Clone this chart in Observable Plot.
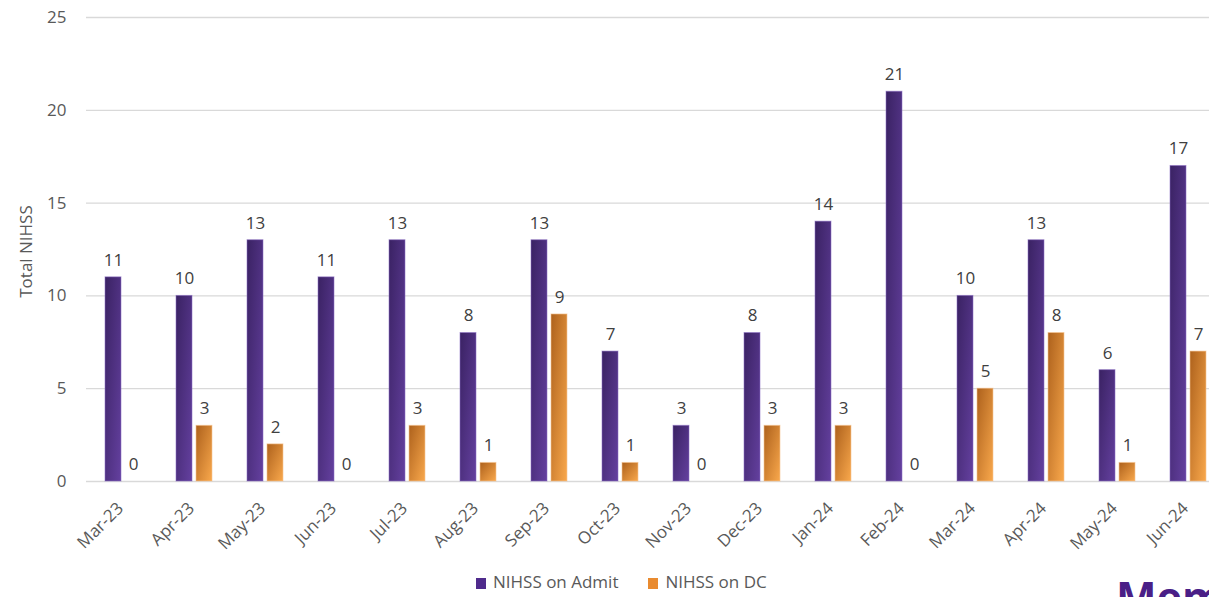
<!DOCTYPE html>
<html>
<head>
<meta charset="utf-8">
<script src="https://cdn.jsdelivr.net/npm/d3@7"></script>
<script src="https://cdn.jsdelivr.net/npm/@observablehq/plot@0.6"></script>
<style>
  html, body { margin: 0; padding: 0; background: #fff; overflow: hidden; }
  body { position: relative; width: 1209px; height: 597px; font-family: "Open Sans", sans-serif; }
  #legend { position: absolute; top: 570px; left: 476px; height: 24px; line-height: 24px; font-size: 17px; color: #595959; white-space: nowrap; }
  #legend span.sw { display: inline-block; width: 10px; height: 11px; vertical-align: -1px; margin-right: 7px; }
  #legend span.item { margin-right: 30px; }
  #brand { position: absolute; left: 1116px; top: 575px; font-size: 43px; line-height: 43px; font-weight: bold; color: #4a1f87; font-family: "Open Sans", sans-serif; white-space: nowrap; }
</style>
</head>
<body>
<div id="chart"></div>
<div id="legend"></div>
<div id="brand">Memorial</div>
<script>
const months = ["Mar-23","Apr-23","May-23","Jun-23","Jul-23","Aug-23","Sep-23","Oct-23","Nov-23","Dec-23","Jan-24","Feb-24","Mar-24","Apr-24","May-24","Jun-24"];
const admit = [11,10,13,11,13,8,13,7,3,8,14,21,10,13,6,17];
const dc = [0,3,2,0,3,1,9,1,0,3,3,0,5,8,1,7];
const seriesNames = ["NIHSS on Admit", "NIHSS on DC"];
const yTicks = [0,5,10,15,20,25];
const yTitle = "Total NIHSS";

const admitData = months.map((m, i) => ({month: m, value: admit[i]}));
const dcData = months.map((m, i) => ({month: m, value: dc[i]}));

const plot = Plot.plot({
  width: 1209,
  height: 570,
  marginLeft: 86,
  marginRight: -16,
  marginTop: 17,
  marginBottom: 89,
  style: {fontSize: "17px", fontFamily: "'Open Sans', sans-serif", color: "#595959", background: "transparent"},
  x: {domain: months, paddingInner: 0.487, paddingOuter: 0.2435, label: null},
  y: {domain: [0, 25], label: null},
  marks: [
    Plot.ruleY(yTicks, {stroke: "#d9d9d9", strokeWidth: 1.3}),
    Plot.axisY({ticks: yTicks, tickSize: 0, tickPadding: 20, label: null, fill: "#595959"}),
    Plot.text([yTitle], {frameAnchor: "left", textAnchor: "middle", rotate: -90, dx: -60, dy: 2, fill: "#595959"}),
    Plot.axisX({tickSize: 0, tickRotate: -45, tickPadding: 24, dx: -3, label: null, fill: "#595959"}),
    Plot.barY(admitData, {x: "month", y: "value", insetRight: 20, fill: "url(#gPurple)", stroke: "#8c70c4", strokeOpacity: 0.55, strokeWidth: 1}),
    Plot.barY(dcData, {x: "month", y: "value", insetLeft: 20, fill: "url(#gOrange)", stroke: "#f6c592", strokeOpacity: 0.6, strokeWidth: 1}),
    Plot.text(admitData, {x: "month", y: "value", text: d => String(d.value), dx: -10, dy: -17, fill: "#404040"}),
    Plot.text(dcData, {x: "month", y: "value", text: d => String(d.value), dx: 10, dy: -17, fill: "#404040"})
  ]
});

const svgNS = "http://www.w3.org/2000/svg";
const defs = document.createElementNS(svgNS, "defs");
function grad(id, c1, c2) {
  const g = document.createElementNS(svgNS, "linearGradient");
  g.setAttribute("id", id);
  g.setAttribute("x1", "0"); g.setAttribute("y1", "0");
  g.setAttribute("x2", "1"); g.setAttribute("y2", "1");
  const s1 = document.createElementNS(svgNS, "stop");
  s1.setAttribute("offset", "0"); s1.setAttribute("stop-color", c1);
  const s2 = document.createElementNS(svgNS, "stop");
  s2.setAttribute("offset", "1"); s2.setAttribute("stop-color", c2);
  g.appendChild(s1); g.appendChild(s2);
  defs.appendChild(g);
}
grad("gPurple", "#3a2263", "#64409f");
grad("gOrange", "#ad611c", "#f9a84c");
plot.insertBefore(defs, plot.firstChild);
plot.style.overflow = "hidden";
document.getElementById("chart").appendChild(plot);

const legendColors = ["#4f2b8c", "#e98b30"];
const legend = document.getElementById("legend");
seriesNames.forEach((name, i) => {
  const item = document.createElement("span");
  item.className = "item";
  const sw = document.createElement("span");
  sw.className = "sw";
  sw.style.background = legendColors[i];
  item.appendChild(sw);
  item.appendChild(document.createTextNode(name));
  legend.appendChild(item);
});
</script>
</body>
</html>
